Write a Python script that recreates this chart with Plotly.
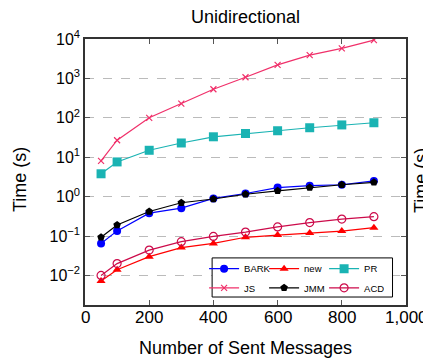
import plotly.graph_objects as go

x_vals = [50, 100, 200, 300, 400, 500, 600, 700, 800, 900]
bark = [0.065, 0.135, 0.38, 0.51, 0.9, 1.2, 1.7, 1.9, 2.0, 2.5]
new = [0.0072, 0.014, 0.030, 0.051, 0.065, 0.093, 0.106, 0.12, 0.134, 0.163]
pr = [3.8, 7.6, 15, 23, 33, 40, 47, 56, 66, 75]
js = [8.1, 27, 100, 230, 530, 1070, 2200, 3900, 5800, 9400]
jmm = [0.093, 0.19, 0.42, 0.70, 0.87, 1.15, 1.4, 1.7, 2.0, 2.3]
acd = [0.010, 0.020, 0.044, 0.072, 0.098, 0.126, 0.17, 0.22, 0.27, 0.31]

x_ticks = [0, 200, 400, 600, 800, 1000]
x_tick_labels = ["0", "200", "400", "600", "800", "1,000"]
y_ticks = [0.01, 0.1, 1, 10, 100, 1000, 10000]
y_tick_labels = ["10<sup>−2</sup>", "10<sup>−1</sup>", "10<sup>0</sup>",
                 "10<sup>1</sup>", "10<sup>2</sup>", "10<sup>3</sup>", "10<sup>4</sup>"]

series = [
    ("BARK", bark, "#0000ff", dict(symbol="circle", size=8), "legend"),
    ("new", new, "#ff0000", dict(symbol="triangle-up", size=8), "legend"),
    ("PR", pr, "#1ab3b3", dict(symbol="square", size=9), "legend"),
    ("JS", js, "#f0306a", dict(symbol="x-thin", size=6, line=dict(width=1.2, color="#f0306a")), "legend2"),
    ("JMM", jmm, "#000000", dict(symbol="pentagon", size=8), "legend2"),
    ("ACD", acd, "#cc0a4a", dict(symbol="circle-open", size=8, line=dict(width=1.2)), "legend2"),
]

fig = go.Figure()
for name, ys, col, mk, lg in series:
    mk = dict(mk)
    mk["color"] = col
    fig.add_trace(go.Scatter(x=x_vals, y=ys, name=name, mode="lines+markers",
                             line=dict(color=col, width=1.2), marker=mk, legend=lg))

# The page body adds an 8px margin, so the figure is sized to the visible area.
W, H = 423, 351
PL = 77  # plot-area left edge inside the figure
PW = 321

def px_to_paper(xpx_view):
    return (xpx_view - 8 - PL) / PW

fam = "Liberation Sans, Arial, sans-serif"
leg_common = dict(orientation="h", xanchor="left", yanchor="top",
                  bgcolor="rgba(0,0,0,0)", borderwidth=0,
                  font=dict(size=9.5, family=fam), entrywidth=15, itemwidth=30)
fig.update_layout(
    width=W, height=H,
    margin=dict(l=PL, r=25, t=31, b=54),
    paper_bgcolor="white", plot_bgcolor="white",
    font=dict(family=fam, size=16, color="black"),
    title=dict(text="Unidirectional", x=0.5, xanchor="center", xref="paper",
               y=0.974, yanchor="middle", font=dict(size=18)),
    showlegend=True,
    legend=dict(x=0.371, y=0.191, **leg_common),
    legend2=dict(x=0.371, y=0.119, **leg_common),
)
fig.add_shape(type="rect", xref="paper", yref="paper", x0=0.396, x1=0.958,
              y0=0.030, y1=0.177, fillcolor="white", line=dict(color="black", width=1),
              layer="above")
fig.update_xaxes(range=[0, 1000], tickvals=x_ticks, showticklabels=False,
                 showline=True, linecolor="#333", linewidth=1.5, mirror="ticks",
                 ticks="inside", ticklen=5, tickcolor="#555",
                 showgrid=False, zeroline=False)
fig.update_yaxes(type="log", range=[-2.75, 4.0], tickvals=y_ticks, ticktext=y_tick_labels,
                 tickfont=dict(size=16),
                 showline=True, linecolor="#333", linewidth=1.5, mirror="ticks",
                 ticks="inside", ticklen=5, tickcolor="#555",
                 showgrid=True, gridcolor="#bbbbbb", griddash="dash", gridwidth=1,
                 zeroline=False)
# x tick labels placed on the x scale
for xv, lab in zip(x_ticks, x_tick_labels):
    fig.add_annotation(text=lab, x=xv, xref="x", y=0, yref="paper", yshift=-12,
                       showarrow=False, xanchor="center", yanchor="middle",
                       font=dict(size=17))
fig.add_annotation(text="Number of Sent Messages", x=0.5, xref="paper", y=0, yref="paper",
                   yshift=-43, showarrow=False, xanchor="center", yanchor="middle",
                   font=dict(size=18))
fig.add_annotation(text="Time (s)", xref="paper", yref="paper",
                   x=px_to_paper(20), y=0.47, textangle=-90, showarrow=False,
                   xanchor="center", yanchor="middle", font=dict(size=18))
fig.add_annotation(text="Time (s)", xref="paper", yref="paper",
                   x=px_to_paper(421), y=0.47, textangle=-90, showarrow=False,
                   xanchor="center", yanchor="middle", font=dict(size=18))
fig.write_html("out.html")
